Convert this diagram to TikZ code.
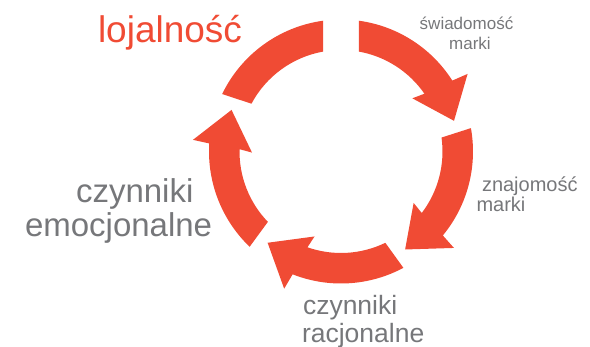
\documentclass[tikz,border=0pt]{standalone}
\usepackage{fontspec}
\setmainfont{Liberation Sans}
\definecolor{cyclered}{RGB}{240,75,52}
\definecolor{labelgrey}{RGB}{118,119,122}
\begin{document}
\begin{tikzpicture}[x=1pt,y=1pt,
  lbl/.style={inner sep=0pt, outer sep=0pt, anchor=base west, text=labelgrey},
  lblc/.style={inner sep=0pt, outer sep=0pt, anchor=base, text=labelgrey},
  seg/.style={fill=cyclered, draw=none}]
\useasboundingbox (0,0) rectangle (590,346);
% cycle centre
\coordinate (c) at (341,194.5);
% four arrows, each rotated by -72 degrees
\foreach \k in {0,1,2,3}{
  \begin{scope}[shift={(c)}, rotate=-72*\k]
    \fill[seg] (82.2:132) arc[start angle=82.2, end angle=32.5, radius=132]
      -- (31.5:148.5) -- (15.2:117.1) -- (36.7:89) -- (34.7:101.5)
      arc[start angle=34.7, end angle=79.9, radius=101.5] -- cycle;
  \end{scope}
}
% plain arc (no head) at the top left
\begin{scope}[shift={(c)}]
  \fill[seg] (154.2:132) arc[start angle=154.2, end angle=97.8, radius=132]
    -- (100.1:101.5) arc[start angle=100.1, end angle=151.9, radius=101.5] -- cycle;
\end{scope}
% labels
\node[lbl, text=cyclered, font=\fontsize{37}{40}\selectfont] (loj) at (98,303) {lojalność};
\node[lblc, font=\fontsize{17}{20}\selectfont] (swi1) at (466.5,316) {świadomość};
\node[lblc, font=\fontsize{17}{20}\selectfont] (swi2) at (470,296) {marki};
\node[lbl, font=\fontsize{20}{22}\selectfont] (zna1) at (482,154) {znajomość};
\node[lbl, font=\fontsize{20}{22}\selectfont] (zna2) at (476.5,134) {marki};
\node[lbl, font=\fontsize{26.5}{28}\selectfont] (rac1) at (303,31) {czynniki};
\node[lbl, font=\fontsize{26.5}{28}\selectfont] (rac2) at (302,4) {racjonalne};
\node[lbl, font=\fontsize{33}{35}\selectfont] (emo1) at (76,143) {czynniki};
\node[lbl, font=\fontsize{33}{35}\selectfont] (emo2) at (25,109) {emocjonalne};
\end{tikzpicture}
\end{document}
